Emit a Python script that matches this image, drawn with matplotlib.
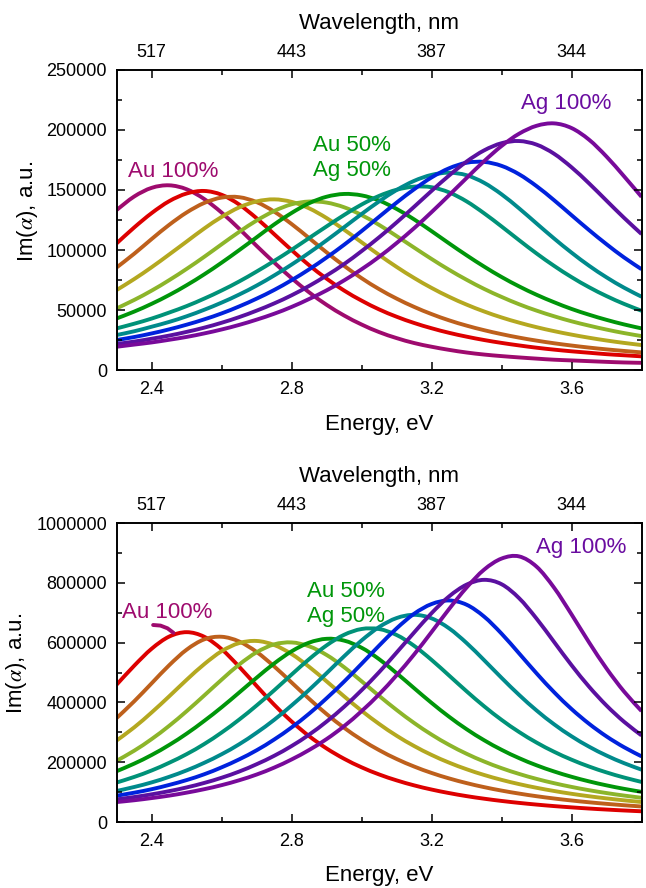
import matplotlib
matplotlib.use("Agg")
import matplotlib.pyplot as plt
from matplotlib.ticker import MultipleLocator
from matplotlib.path import Path
from matplotlib.patches import PathPatch

plt.rcParams['font.family'] = ['Liberation Sans', 'DejaVu Sans']
plt.rcParams['mathtext.fontset'] = 'stix'

# ---------------- data (Im(alpha) values in units of 1000) ----------------
energy = [2.30, 2.35, 2.40, 2.45, 2.50, 2.55, 2.60, 2.65, 2.70, 2.75, 2.80,
          2.85, 2.90, 2.95, 3.00, 3.05, 3.10, 3.15, 3.20, 3.25, 3.30, 3.35,
          3.40, 3.45, 3.50, 3.55, 3.60, 3.65, 3.70, 3.75, 3.80]

# top panel: 11 compositions, Au 100% -> Ag 100%
top_au100 = [133.4, 144.6, 151.8, 153.9, 150.6, 142.5, 131.1, 117.7, 103.4, 89.6, 76.5, 64.7, 54.3, 45.4, 37.9, 31.6, 26.6, 22.5, 19.4, 16.8, 14.6, 12.9, 11.6, 10.5, 9.5, 8.6, 8.0, 7.4, 6.8, 6.3, 6.0]
top_ag10 = [105.6, 118.8, 130.8, 140.7, 147.1, 149.2, 146.0, 137.9, 126.4, 113.2, 99.9, 87.3, 76.1, 66.2, 57.8, 50.5, 44.4, 39.2, 34.8, 31.0, 27.8, 25.0, 22.6, 20.5, 18.6, 17.0, 15.6, 14.4, 13.2, 12.3, 11.4]
top_ag20 = [85.5, 96.9, 109.2, 121.0, 131.3, 139.2, 143.7, 144.0, 139.9, 132.0, 121.6, 109.9, 98.0, 86.8, 76.5, 67.4, 59.5, 52.6, 46.6, 41.4, 37.0, 33.2, 29.9, 27.0, 24.5, 22.3, 20.4, 18.7, 17.2, 15.9, 14.7]
top_ag30 = [66.7, 75.8, 85.7, 96.3, 107.1, 117.9, 127.6, 135.5, 140.5, 142.2, 140.1, 134.7, 126.6, 116.9, 106.4, 95.9, 85.9, 76.7, 68.4, 61.0, 54.5, 48.8, 43.8, 39.5, 35.7, 32.4, 29.5, 26.9, 24.6, 22.6, 20.8]
top_ag40 = [51.4, 58.4, 66.2, 74.9, 84.3, 94.3, 104.8, 115.1, 124.6, 132.5, 138.1, 140.4, 139.5, 135.6, 129.1, 120.9, 111.6, 102.0, 92.5, 83.5, 75.2, 67.6, 60.9, 54.8, 49.5, 44.8, 40.6, 37.0, 33.7, 30.8, 28.3]
top_ag50 = [43.0, 48.7, 55.2, 62.5, 70.7, 79.7, 89.5, 99.9, 110.6, 121.3, 130.9, 139.0, 144.4, 146.7, 145.5, 141.2, 134.2, 125.5, 115.7, 105.5, 95.6, 86.2, 77.5, 69.7, 62.7, 56.5, 50.9, 46.1, 41.8, 38.0, 34.7]
top_ag60 = [34.7, 38.6, 42.9, 47.9, 53.3, 59.5, 66.3, 73.8, 82.1, 90.9, 100.2, 110.0, 119.7, 129.2, 137.9, 145.1, 150.2, 152.8, 152.3, 148.0, 140.5, 130.6, 119.6, 108.2, 97.1, 86.8, 77.4, 69.0, 61.6, 55.1, 49.4]
top_ag70 = [29.2, 32.3, 36.1, 40.1, 44.8, 50.2, 56.2, 62.9, 70.4, 78.8, 87.9, 97.7, 108.1, 119.0, 130.0, 140.5, 150.0, 157.6, 162.6, 164.4, 162.3, 156.0, 146.4, 134.7, 122.1, 109.6, 97.8, 86.9, 77.2, 68.6, 61.1]
top_ag80 = [25.0, 27.5, 30.5, 33.9, 37.8, 42.2, 47.2, 53.0, 59.5, 66.7, 74.9, 83.9, 93.8, 104.4, 115.8, 127.7, 139.5, 150.6, 160.5, 168.1, 172.7, 173.4, 170.1, 163.1, 153.2, 141.5, 129.0, 116.6, 104.8, 93.8, 84.0]
top_ag90 = [21.7, 23.7, 26.1, 28.7, 31.8, 35.3, 39.4, 44.1, 49.5, 55.5, 62.3, 70.1, 78.8, 88.3, 99.1, 110.6, 123.0, 136.0, 149.3, 162.1, 173.7, 183.0, 189.0, 190.8, 187.8, 180.2, 168.9, 155.5, 141.1, 126.8, 113.3]
top_ag100 = [19.4, 21.2, 23.0, 25.2, 27.6, 30.5, 33.8, 37.6, 42.0, 46.9, 52.6, 59.2, 66.4, 74.7, 84.0, 94.3, 105.8, 118.2, 131.6, 145.7, 160.0, 174.0, 186.7, 196.9, 203.5, 205.5, 201.6, 191.9, 177.8, 161.4, 144.3]

# bottom panel: 10 curves
bot_1 = [459.8, 522.9, 579.8, 620.3, 635.0, 619.7, 577.9, 519.4, 455.0, 392.4, 336.0, 287.2, 245.9, 211.5, 182.9, 159.1, 139.3, 122.6, 108.6, 96.8, 86.6, 78.0, 70.5, 64.0, 58.3, 53.3, 49.0, 45.1, 41.7, 38.6, 35.9]
bot_2 = [348.0, 403.8, 464.2, 524.5, 576.6, 610.9, 619.6, 603.8, 568.7, 520.5, 466.4, 412.1, 361.0, 315.1, 275.0, 240.4, 210.8, 185.6, 164.1, 145.8, 130.2, 116.7, 105.1, 95.1, 86.3, 78.7, 72.0, 66.0, 60.8, 56.1, 52.0]
bot_3 = [272.9, 316.6, 366.7, 420.5, 475.9, 527.9, 571.5, 598.5, 605.6, 592.1, 561.6, 519.0, 470.3, 420.2, 372.1, 328.0, 288.6, 254.2, 224.3, 198.6, 176.5, 157.4, 141.0, 126.8, 114.5, 103.8, 94.4, 86.2, 79.0, 72.6, 66.9]
bot_4 = [205.0, 238.6, 277.6, 321.9, 370.9, 423.2, 476.3, 526.7, 567.9, 594.2, 600.6, 587.7, 558.6, 517.8, 470.6, 421.9, 374.8, 331.3, 292.3, 258.0, 228.2, 202.4, 180.1, 160.9, 144.2, 129.9, 117.4, 106.4, 96.9, 88.5, 81.1]
bot_5 = [170.1, 195.3, 224.3, 257.8, 295.7, 338.2, 384.0, 433.1, 482.8, 530.3, 571.0, 600.0, 612.8, 606.7, 582.8, 544.6, 497.8, 447.7, 398.3, 352.1, 310.4, 273.6, 241.5, 213.7, 189.7, 169.1, 151.3, 135.9, 122.6, 111.0, 100.9]
bot_6 = [132.2, 150.8, 172.5, 198.2, 227.2, 260.8, 299.5, 342.6, 390.0, 440.5, 493.4, 544.9, 591.0, 626.3, 645.6, 645.4, 625.5, 589.3, 542.1, 489.9, 437.2, 387.2, 341.6, 301.1, 265.7, 235.0, 208.5, 185.6, 165.9, 148.9, 134.1]
bot_7 = [103.9, 117.2, 132.6, 151.2, 172.8, 198.0, 226.8, 260.1, 298.8, 341.8, 390.2, 442.2, 497.9, 554.5, 607.5, 652.2, 682.2, 693.0, 681.1, 647.7, 598.7, 541.4, 482.1, 425.2, 373.1, 326.9, 286.7, 252.0, 222.3, 196.9, 175.1]
bot_8 = [88.1, 98.1, 109.8, 124.1, 140.4, 159.7, 183.0, 209.6, 240.1, 275.9, 316.6, 362.5, 414.1, 469.8, 529.4, 590.1, 647.7, 696.6, 729.1, 741.0, 726.8, 687.1, 629.9, 564.0, 497.2, 434.3, 377.8, 328.6, 286.2, 250.2, 219.6]
bot_9 = [75.8, 83.5, 92.7, 103.3, 115.8, 130.7, 148.2, 168.8, 193.4, 221.5, 254.3, 292.3, 336.1, 385.6, 441.1, 501.3, 566.9, 633.9, 698.7, 754.7, 794.0, 810.0, 795.3, 748.7, 680.2, 602.3, 524.4, 452.6, 389.4, 335.3, 289.6]
bot_10 = [66.8, 72.8, 80.1, 88.3, 98.3, 109.8, 123.4, 139.7, 158.9, 182.0, 209.4, 241.0, 277.6, 320.8, 371.0, 427.3, 491.0, 560.4, 635.7, 712.5, 784.3, 844.1, 881.2, 888.4, 854.0, 783.8, 694.3, 600.8, 513.3, 436.4, 371.1]

# short magenta stroke near the bottom "Au 100%" label
pointer_energy = [2.404, 2.425, 2.445, 2.462]
pointer_value = [659.0, 657.0, 648.0, 633.0]

wl_tick_energy = [2.4, 2.8, 3.2, 3.6]
wl_tick_labels = ['517', '443', '387', '344']

# ---------------- styles ----------------
top_colors = ['#9E0B6E', '#DD0000', '#BE601C', '#B4A820', '#8CB52A', '#00960A',
              '#009278', '#008A8C', '#0022DD', '#5A10A0', '#780A9A']
bot_colors = ['#DD0000', '#BE601C', '#B4A820', '#8CB52A', '#00960A',
              '#009278', '#008A8C', '#0022DD', '#5A10A0', '#780A9A']
LW = 2.8
FS_TICK = 13
FS_LABEL = 16

top_series = [top_au100, top_ag10, top_ag20, top_ag30, top_ag40, top_ag50,
              top_ag60, top_ag70, top_ag80, top_ag90, top_ag100]
bot_series = [bot_1, bot_2, bot_3, bot_4, bot_5, bot_6, bot_7, bot_8, bot_9, bot_10]
for s in top_series + bot_series:
    assert len(s) == len(energy)


def smooth_line(ax, xs, ys, color, lw):
    """Draw a smooth curve through the data points (Catmull-Rom rendered as Bezier)."""
    n = len(xs)
    verts = [(xs[0], ys[0])]
    codes = [Path.MOVETO]
    for i in range(n - 1):
        i0, i3 = max(i - 1, 0), min(i + 2, n - 1)
        c1 = (xs[i] + (xs[i + 1] - xs[i0]) / 6.0, ys[i] + (ys[i + 1] - ys[i0]) / 6.0)
        c2 = (xs[i + 1] - (xs[i3] - xs[i]) / 6.0, ys[i + 1] - (ys[i3] - ys[i]) / 6.0)
        verts += [c1, c2, (xs[i + 1], ys[i + 1])]
        codes += [Path.CURVE4] * 3
    ax.add_patch(PathPatch(Path(verts, codes), fill=False, edgecolor=color,
                           lw=lw, capstyle='butt', joinstyle='round'))


fig = plt.figure(figsize=(6.46, 8.88), dpi=100)
ax1 = fig.add_axes([0.1807, 0.5833, 0.8124, 0.3379])
ax2 = fig.add_axes([0.1807, 0.0743, 0.8124, 0.3367])


def style_axes(ax, ymax, ymajor, yminor, ylab_x):
    ax.set_xlim(2.3, 3.8)
    ax.set_ylim(0, ymax)
    ax.xaxis.set_major_locator(MultipleLocator(0.4))
    ax.xaxis.set_minor_locator(MultipleLocator(0.2))
    ax.yaxis.set_major_locator(MultipleLocator(ymajor))
    ax.yaxis.set_minor_locator(MultipleLocator(yminor))
    ax.ticklabel_format(axis='y', style='plain', useOffset=False)
    ax.tick_params(which='both', direction='in', top=False, right=True,
                   width=1.1, labelsize=FS_TICK)
    ax.tick_params(axis='y', which='major', length=6, pad=7)
    ax.tick_params(axis='y', which='minor', length=3.5)
    ax.tick_params(axis='x', which='major', length=6, pad=8)
    ax.tick_params(axis='x', which='minor', length=3.5)
    for s in ax.spines.values():
        s.set_linewidth(1.2)
    ax.set_xlabel('Energy, eV', fontsize=FS_LABEL)
    ax.xaxis.set_label_coords(0.5, -0.145)
    ax.set_ylabel(r'Im($\alpha$), a.u.', fontsize=FS_LABEL)
    ax.yaxis.set_label_coords(ylab_x, 0.53)

    axt = ax.twiny()
    axt.set_xlim(2.3, 3.8)
    axt.set_xticks(wl_tick_energy)
    axt.set_xticklabels(wl_tick_labels)
    axt.xaxis.set_minor_locator(MultipleLocator(0.2))
    axt.tick_params(which='both', direction='in', labelsize=FS_TICK, width=1.1)
    axt.tick_params(which='major', length=6, pad=6.5)
    axt.tick_params(which='minor', length=3.5)
    axt.set_xlabel('Wavelength, nm', fontsize=FS_LABEL)
    axt.xaxis.set_label_coords(0.5, 1.137)
    for s in axt.spines.values():
        s.set_linewidth(1.2)
    return axt


for ys, c in zip(top_series, top_colors):
    smooth_line(ax1, energy, [v * 1000 for v in ys], c, LW)
for ys, c in zip(bot_series, bot_colors):
    smooth_line(ax2, energy, [v * 1000 for v in ys], c, LW)
ax2.plot(pointer_energy, [v * 1000 for v in pointer_value], color='#9E0B6E',
         lw=LW, solid_capstyle='round')

style_axes(ax1, 250000, 50000, 25000, -0.146)
style_axes(ax2, 1000000, 200000, 100000, -0.167)

# annotations
ax1.text(2.332, 160800, 'Au 100%', color='#9E0B6E', fontsize=FS_LABEL, va='baseline')
ax1.text(2.861, 182500, 'Au 50%', color='#00960A', fontsize=FS_LABEL, va='baseline')
ax1.text(2.861, 161700, 'Ag 50%', color='#00960A', fontsize=FS_LABEL, va='baseline')
ax1.text(3.455, 217500, 'Ag 100%', color='#6A0DA0', fontsize=FS_LABEL, va='baseline')

ax2.text(2.314, 682000, 'Au 100%', color='#9E0B6E', fontsize=FS_LABEL, va='baseline')
ax2.text(2.843, 753500, 'Au 50%', color='#00960A', fontsize=FS_LABEL, va='baseline')
ax2.text(2.843, 669000, 'Ag 50%', color='#00960A', fontsize=FS_LABEL, va='baseline')
ax2.text(3.498, 899700, 'Ag 100%', color='#6A0DA0', fontsize=FS_LABEL, va='baseline')

fig.savefig('out.png', dpi=100)
